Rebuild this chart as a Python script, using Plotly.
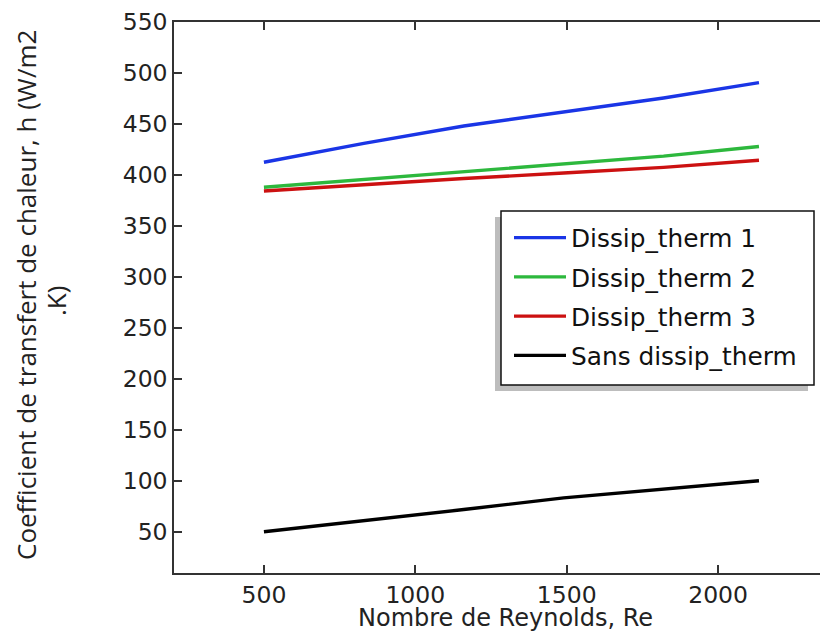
import plotly.graph_objects as go

reynolds = [500, 830, 1160, 1490, 1820, 2135]
dissip1 = [412.5, 431, 448, 462, 475.5, 490.5]
dissip2 = [388, 395.5, 403, 410.5, 418.5, 428]
dissip3 = [384.3, 390.5, 396.5, 402, 407.5, 414.4]
sans = [50.3, 61, 72, 83.5, 92, 100.3]

names = ["Dissip_therm 1", "Dissip_therm 2", "Dissip_therm 3", "Sans dissip_therm"]
colors = ["#1a35e6", "#2db83d", "#cc1111", "#000000"]
series = [dissip1, dissip2, dissip3, sans]

x_ticks = [500, 1000, 1500, 2000]
y_ticks = [50, 100, 150, 200, 250, 300, 350, 400, 450, 500, 550]

x_title = "Nombre de Reynolds, Re"
y_title_1 = "Coefficient de transfert de chaleur, h (W/m2"
y_title_2 = ".K)"

fig = go.Figure()
for i, (n, c, s) in enumerate(zip(names, colors, series)):
    fig.add_trace(go.Scatter(x=reynolds, y=s, mode="lines", name=n,
                             legendgroup=f"g{i}",
                             line=dict(color=c, width=3.4)))

# page has an 8px body margin: figure pixel = page pixel - 8
OFF = 8
W, H = 820, 626
L, R, T = 166, 0, 14
B = H - (573 - OFF)
pw, ph = W - L - R, H - T - B

def px(xp):
    return (xp - OFF - L) / pw

def py(yp):
    return (H - B - (yp - OFF)) / ph

fig.update_layout(
    width=W, height=H,
    margin=dict(l=L, r=R, t=T, b=B, autoexpand=False),
    plot_bgcolor="white", paper_bgcolor="white",
    showlegend=True,
    legend=dict(x=px(509), y=py(215), xanchor="left", yanchor="top",
                bgcolor="rgba(0,0,0,0)", borderwidth=0,
                font=dict(family="DejaVu Sans", size=24.8, color="#111"),
                tracegroupgap=4, itemwidth=52),
    font=dict(family="DejaVu Sans", size=23.5, color="#222"),
)

fig.update_xaxes(range=[203, 2363], tickvals=x_ticks, ticks="inside", ticklen=8,
                 tickwidth=1.5, tickcolor="#333", showline=True, linecolor="#333",
                 linewidth=1.5, mirror="ticks", showgrid=False, zeroline=False,
                 tickfont=dict(family="DejaVu Sans", size=23.5, color="#222"))
fig.update_yaxes(range=[9.8, 550], tickvals=y_ticks, ticks="inside", ticklen=8,
                 tickwidth=1.5, tickcolor="#333", showline=True, linecolor="#333",
                 linewidth=1.5, mirror=False, showgrid=False, zeroline=False,
                 tickfont=dict(family="DejaVu Sans", size=23.5, color="#222"))

# axis titles
fig.add_annotation(text=x_title, xref="paper", yref="paper", x=px(505), y=py(618),
                   xanchor="center", yanchor="middle", showarrow=False,
                   font=dict(family="DejaVu Sans", size=24, color="#222"))
fig.add_annotation(text=y_title_1, xref="paper", yref="paper", x=px(26), y=py(295),
                   xanchor="center", yanchor="middle", showarrow=False, textangle=-90,
                   font=dict(family="Open Sans", size=26, color="#222"))
fig.add_annotation(text=y_title_2, xref="paper", yref="paper", x=px(56), y=py(301),
                   xanchor="center", yanchor="middle", showarrow=False, textangle=-90,
                   font=dict(family="Open Sans", size=26, color="#222"))

# legend frame with drop shadow
fig.add_shape(type="rect", xref="paper", yref="paper",
              x0=px(495), x1=px(808), y0=py(391), y1=py(217),
              fillcolor="#bdbdbd", line=dict(width=0), layer="above")
fig.add_shape(type="rect", xref="paper", yref="paper",
              x0=px(501), x1=px(814), y0=py(385), y1=py(211),
              fillcolor="white", line=dict(color="#111", width=1.5), layer="above")

fig.write_html("out.html")
